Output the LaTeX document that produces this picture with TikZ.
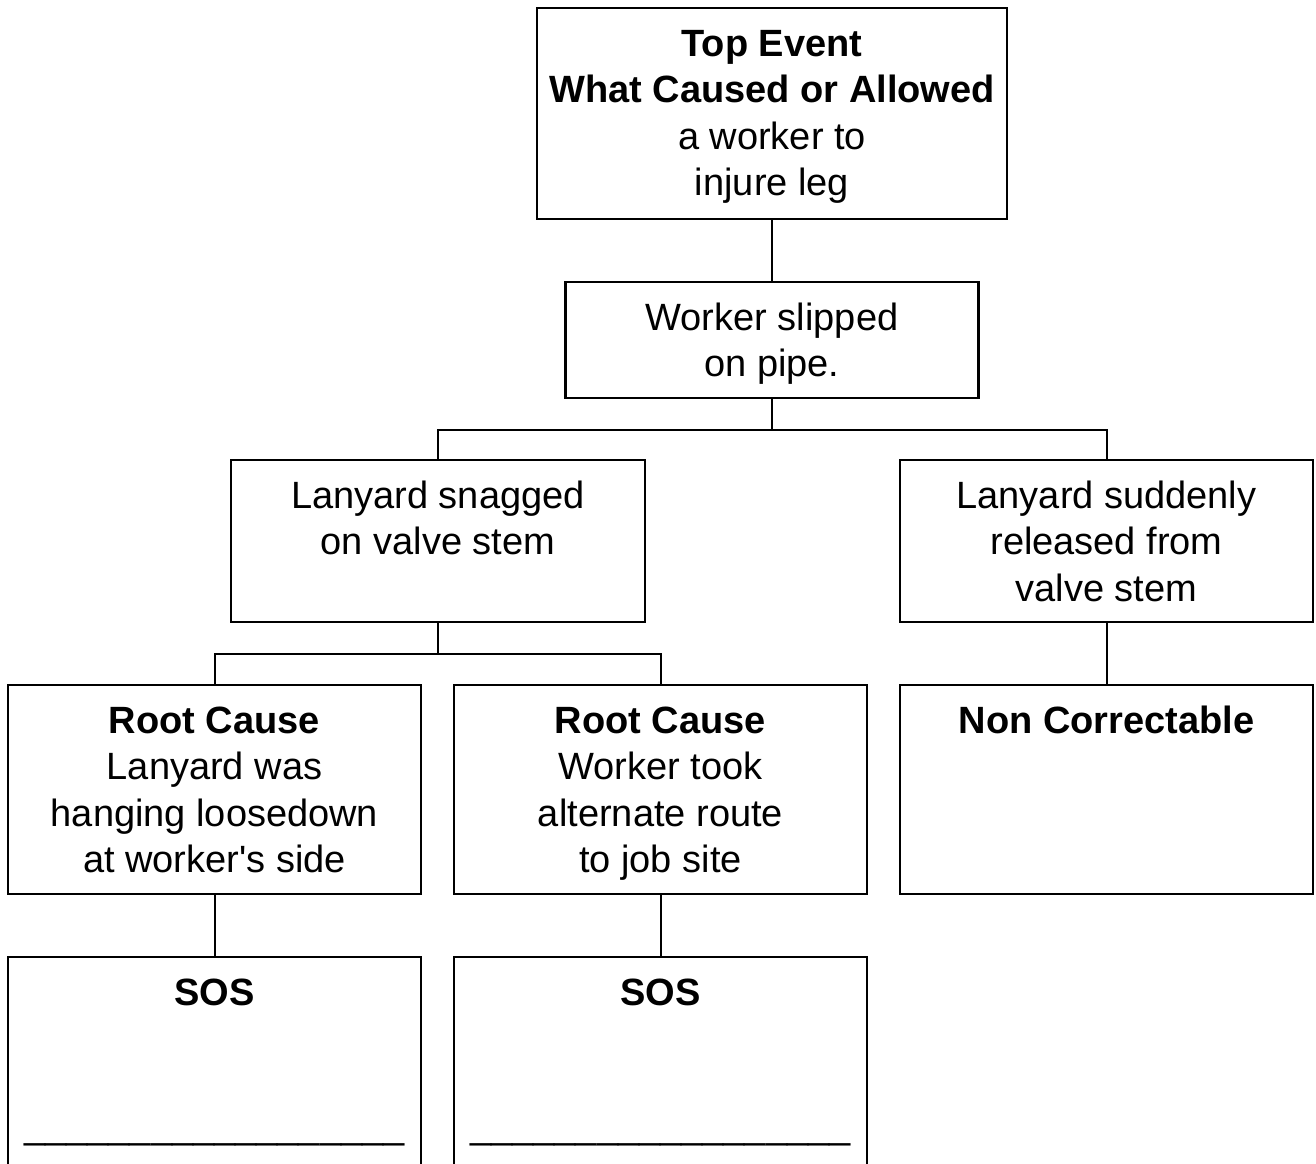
\documentclass[tikz,border=0pt]{standalone}
\usepackage{fontspec}
\setmainfont{Liberation Sans}[Ligatures=TeXOff]
\begin{document}
\begin{tikzpicture}[x=0.5pt,y=-0.5pt,
  box/.style={draw=black, line width=1.2pt, inner sep=0pt, fill=white},
  conn/.style={draw=black, line width=1pt}]
\useasboundingbox (0,0) rectangle (1316,1163);
\clip (0,0) rectangle (1316,1163);
\newcommand{\bxtext}[3]{\parbox[c][#2][t]{#1}{\fontsize{19}{23.25}\selectfont\centering\rule{0pt}{24pt}#3\par}}
\node[box] (top) at (772,113.5) {\bxtext{235pt}{105.5pt}{\textbf{Top Event}\\\textbf{What Caused or Allowed}\\a worker to\\injure leg}};
\node[box] (slip) at (772,340) {\bxtext{206.5pt}{58pt}{Worker slipped\\on pipe.}};
\node[box] (snag) at (438,541) {\bxtext{207pt}{81pt}{Lanyard snagged\\on valve stem}};
\node[box] (rel) at (1106.5,541) {\bxtext{206.5pt}{81pt}{Lanyard suddenly\\released from\\valve stem}};
\node[box] (rc1) at (214.5,789.5) {\bxtext{206.5pt}{104.5pt}{\textbf{Root Cause}\\Lanyard was\\hanging loosedown\\at worker's side}};
\node[box] (rc2) at (660.5,789.5) {\bxtext{206.5pt}{104.5pt}{\textbf{Root Cause}\\Worker took\\alternate route\\to job site}};
\node[box] (nc) at (1106.5,789.5) {\bxtext{206.5pt}{104.5pt}{\textbf{Non Correctable}}};
\node[box] (sos1) at (214.5,1072) {\bxtext{206.5pt}{115pt}{\textbf{SOS}\\[43.5pt]\_\_\_\_\_\_\_\_\_\_\_\_\_\_\_\_\_\_}};
\node[box] (sos2) at (660.5,1072) {\bxtext{206.5pt}{115pt}{\textbf{SOS}\\[43.5pt]\_\_\_\_\_\_\_\_\_\_\_\_\_\_\_\_\_\_}};
\coordinate (j1) at (772,430);
\coordinate (j2) at (438,654);
\draw[conn] (top.south) -- (slip.north);
\draw[conn] (slip.south) -- (j1);
\draw[conn] (snag.north) |- (j1) -| (rel.north);
\draw[conn] (snag.south) -- (j2);
\draw[conn] (rc1.north) |- (j2) -| (rc2.north);
\draw[conn] (rel.south) -- (nc.north);
\draw[conn] (rc1.south) -- (sos1.north);
\draw[conn] (rc2.south) -- (sos2.north);
\end{tikzpicture}
\end{document}
